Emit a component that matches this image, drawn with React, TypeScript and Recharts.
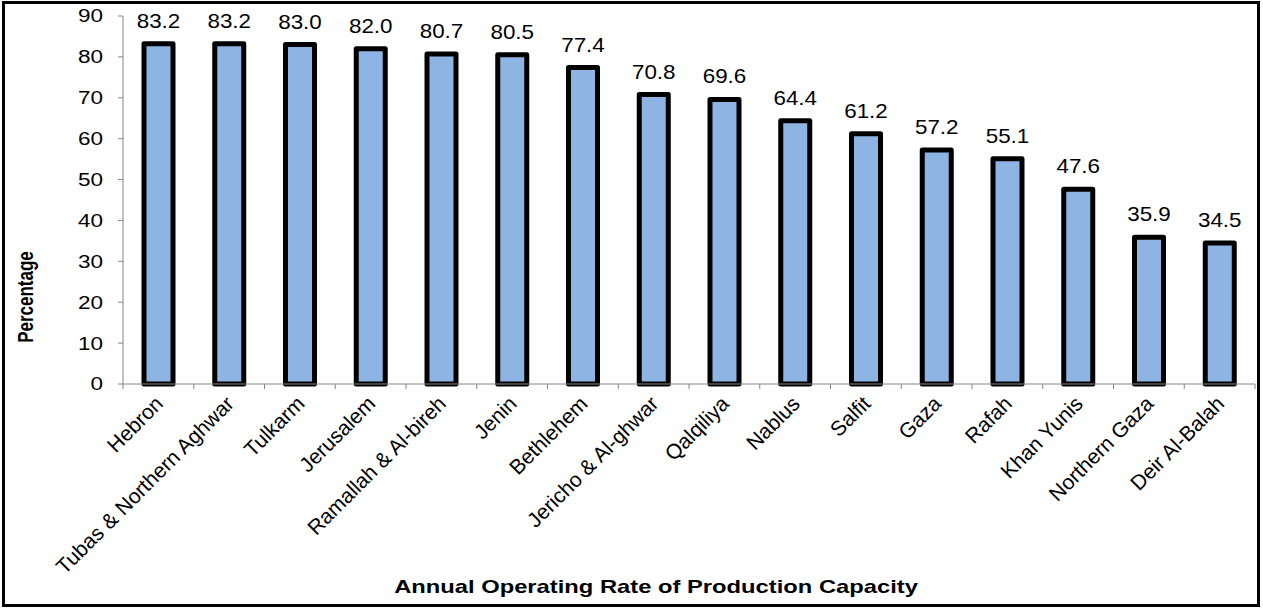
import { BarChart, Bar, XAxis, YAxis, LabelList } from "recharts";

const governorates = [
  "Hebron",
  "Tubas & Northern Aghwar",
  "Tulkarm",
  "Jerusalem",
  "Ramallah & Al-bireh",
  "Jenin",
  "Bethlehem",
  "Jericho & Al-ghwar",
  "Qalqiliya",
  "Nablus",
  "Salfit",
  "Gaza",
  "Rafah",
  "Khan Yunis",
  "Northern Gaza",
  "Deir Al-Balah",
];
const operatingRate = [83.2, 83.2, 83.0, 82.0, 80.7, 80.5, 77.4, 70.8, 69.6, 64.4, 61.2, 57.2, 55.1, 47.6, 35.9, 34.5];
const yTicks = [0, 10, 20, 30, 40, 50, 60, 70, 80, 90];

const data = governorates.map((name, i) => ({ name, value: operatingRate[i] }));

const FONT = '"Liberation Sans", Arial, sans-serif';
const PLOT_LEFT = 123;
const PLOT_RIGHT = 1255;
const BAND = (PLOT_RIGHT - PLOT_LEFT) / governorates.length;
// horizontal text in the source looks a little stretched sideways
const WIDE = 1.25;

// Excel-style ticks: marks sit between categories, labels rotated 45deg
function CategoryTick(props: any) {
  const { x, y, payload, index, visibleTicksCount } = props;
  const left = x - BAND / 2;
  const isLast = index === visibleTicksCount - 1;
  const tx = x + 6;
  const ty = y + 21;
  return (
    <g>
      <line x1={left} y1={y} x2={left} y2={y + 5} stroke="#868686" strokeWidth={1} />
      {isLast && <line x1={left + BAND} y1={y} x2={left + BAND} y2={y + 5} stroke="#868686" strokeWidth={1} />}
      <text
        x={tx}
        y={ty}
        transform={`rotate(-45, ${tx}, ${ty})`}
        textAnchor="end"
        fontSize={21}
        fontFamily={FONT}
        fill="#000"
      >
        {payload.value}
      </text>
    </g>
  );
}

function ValueTick(props: any) {
  const { x, y, payload } = props;
  return (
    <text
      transform={`translate(${x}, ${y}) scale(${WIDE}, 1)`}
      textAnchor="end"
      dy="0.36em"
      fontSize={18}
      fontFamily={FONT}
      fill="#000"
    >
      {payload.value}
    </text>
  );
}

function BarValue(props: any) {
  const { x, y, width, value } = props;
  return (
    <text
      transform={`translate(${x + width / 2}, ${y - 16}) scale(1.12, 1)`}
      textAnchor="middle"
      fontSize={20}
      fontFamily={FONT}
      fill="#000"
    >
      {Number(value).toFixed(1)}
    </text>
  );
}

export default function App() {
  return (
    <div style={{ position: "absolute", left: 0, top: 0, width: 1263, height: 610, background: "#fff" }}>
      <BarChart
        width={1263}
        height={610}
        data={data}
        margin={{ top: 16, right: 1263 - PLOT_RIGHT, left: PLOT_LEFT - 60, bottom: 0 }}
        barCategoryGap={0}
      >
        <XAxis
          dataKey="name"
          interval={0}
          height={226}
          axisLine={{ stroke: "#868686" }}
          tickLine={false}
          tickSize={0}
          tickMargin={0}
          tick={<CategoryTick />}
        />
        <YAxis
          width={60}
          domain={[0, 90]}
          ticks={yTicks}
          interval={0}
          axisLine={{ stroke: "#868686" }}
          tickLine={{ stroke: "#868686" }}
          tickSize={5}
          tickMargin={15}
          tick={<ValueTick />}
        />
        <Bar
          dataKey="value"
          barSize={29}
          fill="#8DB4E2"
          stroke="#000"
          strokeWidth={5}
          strokeLinejoin="round"
          isAnimationActive={false}
        >
          <LabelList dataKey="value" content={<BarValue />} />
        </Bar>
      </BarChart>
      <svg width={1263} height={610} style={{ position: "absolute", left: 0, top: 0, pointerEvents: "none" }}>
        <text
          transform={`translate(33, 297) scale(${WIDE}, 1) rotate(-90)`}
          textAnchor="middle"
          fontSize={17}
          fontWeight="bold"
          fontFamily={FONT}
          fill="#000"
        >
          Percentage
        </text>
        <text
          transform={`translate(656, 593) scale(${WIDE}, 1)`}
          textAnchor="middle"
          fontSize={19}
          fontWeight="bold"
          fontFamily={FONT}
          fill="#000"
        >
          Annual Operating Rate of Production Capacity
        </text>
      </svg>
      <div
        style={{
          position: "absolute",
          left: 2,
          top: 1,
          width: 1258,
          height: 606,
          border: "3px solid #000",
          boxSizing: "border-box",
          pointerEvents: "none",
        }}
      />
    </div>
  );
}
